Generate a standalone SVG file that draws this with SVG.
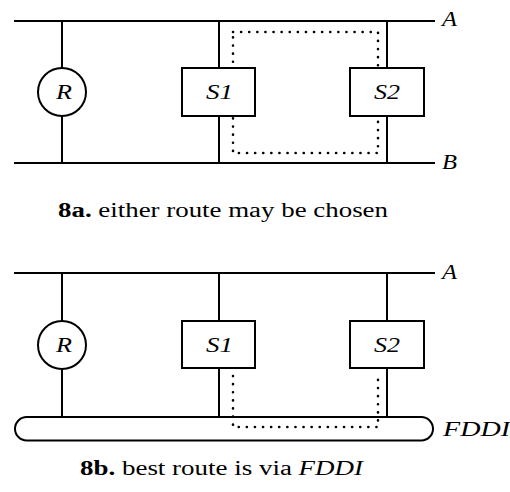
<svg xmlns="http://www.w3.org/2000/svg" width="510" height="492" viewBox="0 0 510 492">
<style>
.ln{stroke:#000;stroke-width:2;fill:none}
.nd{stroke:#000;stroke-width:2;fill:#fff}
.dot{stroke:#000;stroke-width:2.6;fill:none;stroke-dasharray:0.1 8;stroke-linecap:round}
text{font-family:'Liberation Serif','DejaVu Serif','Times New Roman',serif;fill:#000}
.it{font-style:italic;font-size:22px}
.cap{font-size:20px}
</style>
<rect width="510" height="492" fill="#fff"/>
<g id="connectors">
  <line class="ln" x1="14" y1="21" x2="435" y2="21"/>
  <line class="ln" x1="14" y1="163" x2="435" y2="163"/>
  <line class="ln" x1="62" y1="21" x2="62" y2="163"/>
  <line class="ln" x1="219" y1="21" x2="219" y2="163"/>
  <line class="ln" x1="387" y1="21" x2="387" y2="163"/>
  <rect class="dot" x="233" y="32" width="145" height="121"/>
  <line class="ln" x1="14" y1="273" x2="435" y2="273"/>
  <line class="ln" x1="62" y1="273" x2="62" y2="417"/>
  <line class="ln" x1="219" y1="273" x2="219" y2="417"/>
  <line class="ln" x1="387" y1="273" x2="387" y2="417"/>
</g>
<g id="A-label-a"><text class="it" x="442" y="26" textLength="15" lengthAdjust="spacingAndGlyphs">A</text></g>
<g id="B-label"><text class="it" x="442" y="169" textLength="15" lengthAdjust="spacingAndGlyphs">B</text></g>
<g id="R-a">
  <circle class="nd" cx="62" cy="92" r="24"/>
  <text class="it" x="56" y="99" textLength="16" lengthAdjust="spacingAndGlyphs">R</text>
</g>
<g id="S1-a">
  <rect class="nd" x="182" y="68" width="73" height="48"/>
  <text class="it" x="206" y="99" textLength="27" lengthAdjust="spacingAndGlyphs">S1</text>
</g>
<g id="S2-a">
  <rect class="nd" x="350" y="68" width="74" height="48"/>
  <text class="it" x="374" y="99" textLength="26" lengthAdjust="spacingAndGlyphs">S2</text>
</g>
<g id="caption-a">
  <text class="cap" x="58" y="217" textLength="330" lengthAdjust="spacingAndGlyphs"><tspan font-weight="bold">8a.</tspan>  either route may be chosen</text>
</g>
<g id="A-label-b"><text class="it" x="442" y="279" textLength="15" lengthAdjust="spacingAndGlyphs">A</text></g>
<g id="FDDI">
  <rect class="nd" x="15" y="417" width="418" height="23.5" rx="11.75" ry="11.75"/>
  <text class="it" x="443" y="436" textLength="67" lengthAdjust="spacingAndGlyphs">FDDI</text>
</g>
<g id="route-b">
  <path class="dot" d="M233 376 V427 H378 V376"/>
</g>
<g id="R-b">
  <circle class="nd" cx="62" cy="345" r="24"/>
  <text class="it" x="56" y="352" textLength="16" lengthAdjust="spacingAndGlyphs">R</text>
</g>
<g id="S1-b">
  <rect class="nd" x="182" y="321" width="73" height="47"/>
  <text class="it" x="206" y="352" textLength="27" lengthAdjust="spacingAndGlyphs">S1</text>
</g>
<g id="S2-b">
  <rect class="nd" x="350" y="321" width="74" height="47"/>
  <text class="it" x="374" y="352" textLength="26" lengthAdjust="spacingAndGlyphs">S2</text>
</g>
<g id="caption-b">
  <text class="cap" x="80" y="475" textLength="283" lengthAdjust="spacingAndGlyphs"><tspan font-weight="bold">8b.</tspan>  best route is via <tspan font-style="italic">FDDI</tspan></text>
</g>
</svg>
